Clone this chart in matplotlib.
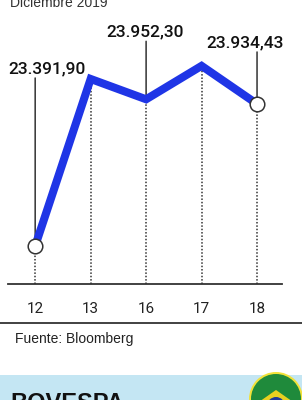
import matplotlib
matplotlib.use("Agg")
import matplotlib.pyplot as plt
from matplotlib.patches import Rectangle, Circle, Polygon

days = ["12", "13", "16", "17", "18"]
values = [23391.90, 24030.0, 23952.30, 24080.0, 23934.43]
label_idx = [0, 2, 4]
label_text = ["23.391,90", "23.952,30", "23.934,43"]
title = "Diciembre 2019"
source = "Fuente: Bloomberg"
banner = "BOVESPA"

W, H = 302, 400
fig = plt.figure(figsize=(W / 100, H / 100), dpi=100)
fig.patch.set_facecolor("white")
plt.rcParams["font.family"] = ["Liberation Sans", "DejaVu Sans"]

ax = fig.add_axes([8 / W, (H - 284) / H, (282 - 8) / W, 284 / H])
ax.set_facecolor("none")
x = list(range(len(days)))
ax.set_xlim(-0.49, 4.45)
ax.set_ylim(23246.7, 24331.6)
for s in ["top", "left", "right"]:
    ax.spines[s].set_visible(False)
ax.spines["bottom"].set_color("#333333")
ax.spines["bottom"].set_linewidth(1.3)
ax.set_yticks([])
ax.set_xticks(x)
ax.set_xticklabels(days, fontsize=11, color="#222222", family=["Roboto", "DejaVu Sans"])
ax.tick_params(axis="x", length=0, pad=13)

ymin = ax.get_ylim()[0]
for i, v in zip(x, values):
    ax.vlines(i, ymin, v, colors="#333333", linestyles=(0, (1, 1.2)), linewidth=1.1, zorder=1)

ax.plot(x, values, color="#1f35e6", linewidth=5.8, solid_joinstyle="miter",
        solid_capstyle="butt", zorder=3)
ax.plot([x[0], x[-1]], [values[0], values[-1]], linestyle="none", marker="o",
        markersize=10.5, markerfacecolor="white", markeredgecolor="#333333",
        markeredgewidth=1.1, zorder=4)

lead_len = {0: 168, 2: 58, 4: 52}
text_dx = {0: 12, 2: -1, 4: -12}
for idx, t in zip(label_idx, label_text):
    ax.annotate("", xy=(idx, values[idx]), xytext=(0, lead_len[idx]),
                textcoords="offset pixels",
                arrowprops=dict(arrowstyle="-", color="#333333", lw=1.1,
                                shrinkA=0, shrinkB=0), zorder=2)
    ax.annotate(t, xy=(idx, values[idx]), xytext=(text_dx[idx], lead_len[idx] + 2),
                textcoords="offset pixels", ha="center", va="bottom",
                fontsize=12.5, fontweight="medium", family=["Roboto", "DejaVu Sans"],
                color="#111111", zorder=5)

fig.text(10 / W, (H - 7) / H, title, fontsize=10, color="#333333", va="baseline")
fig.add_artist(plt.Line2D([0, 1], [(H - 323) / H] * 2, color="#333333", lw=1.3,
                          transform=fig.transFigure))
fig.text(15 / W, (H - 339) / H, source, fontsize=10, color="#222222", va="center")

ax_f = fig.add_axes([0, 0, 1, 1], facecolor="none")
ax_f.set_zorder(-1)
ax_f.set_xlim(0, W)
ax_f.set_ylim(H, 0)
ax_f.axis("off")
ax_f.add_patch(Rectangle((0, 375), W, 25, facecolor="#c4e6f3", edgecolor="none"))
cx, cy = 276, 399
ax_f.add_patch(Circle((cx, cy), 27, facecolor="#f2e23a", edgecolor="none"))
ax_f.add_patch(Circle((cx, cy), 25, facecolor="#1f8a3b", edgecolor="none"))
ax_f.add_patch(Polygon([(cx - 20, cy + 5), (cx, cy - 9), (cx + 20, cy + 5), (cx, cy + 19)],
                       facecolor="#e8d020", edgecolor="none"))
ax_f.add_patch(Circle((cx, cy + 7), 9, facecolor="#1d3a9a", edgecolor="none"))
fig.text(10 / W, (H - 392) / H, banner, fontsize=17, fontweight="bold",
         color="#111111", va="top")

fig.savefig("out.png", dpi=100)
